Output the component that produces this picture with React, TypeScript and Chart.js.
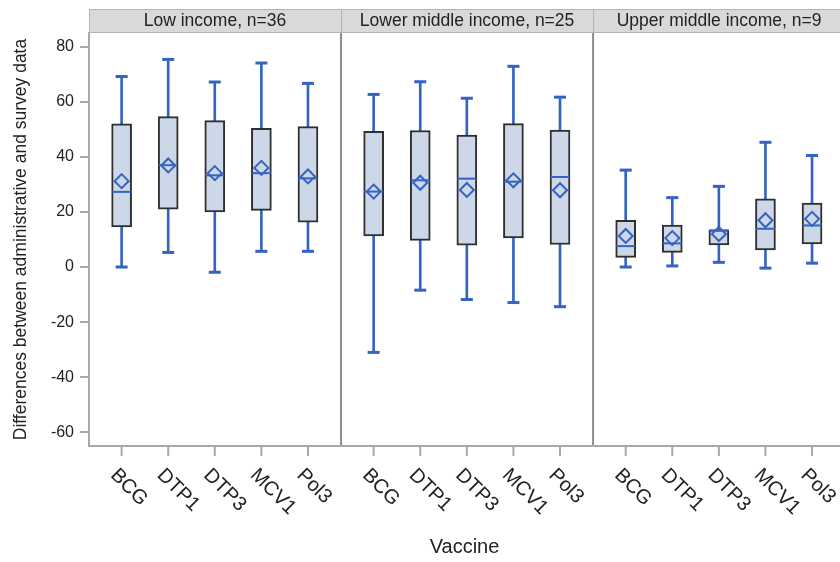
import React, { useEffect, useRef } from "react";
import { Chart, registerables } from "chart.js";

Chart.register(...registerables);

// ---------- data ----------
const panels = ["Low income, n=36", "Lower middle income, n=25", "Upper middle income, n=9"];
const vaccines = ["BCG", "DTP1", "DTP3", "MCV1", "Pol3"];
const yTicks = [-60, -40, -20, 0, 20, 40, 60, 80];
const yTitle = "Differences between administrative and survey data";
const xTitle = "Vaccine";

// rows = income panels, columns = vaccines
const whiskerLow = [
  [0, 5.3, -1.9, 5.7, 5.7],
  [-31.0, -8.4, -11.8, -12.9, -14.4],
  [0, 0.4, 1.7, -0.4, 1.4],
];
const q1 = [
  [14.6, 21.0, 20.0, 20.6, 16.3],
  [11.3, 9.7, 7.9, 10.6, 8.2],
  [3.5, 5.3, 8.0, 6.2, 8.4],
];
const medians = [
  [27.3, 37.0, 33.3, 34.1, 32.2],
  [27.4, 31.5, 32.1, 31.0, 32.7],
  [7.6, 8.6, 13.3, 13.9, 15.1],
];
const q3 = [
  [52.0, 54.6, 53.2, 50.4, 51.0],
  [49.3, 49.6, 47.9, 52.1, 49.7],
  [17.0, 15.2, 13.5, 24.8, 23.2],
];
const whiskerHigh = [
  [69.2, 75.4, 67.2, 74.1, 66.7],
  [62.7, 67.3, 61.3, 72.9, 61.7],
  [35.2, 25.2, 29.3, 45.3, 40.5],
];
const means = [
  [31.2, 36.9, 34.1, 36.0, 32.9],
  [27.4, 30.6, 28.0, 31.5, 27.9],
  [11.3, 10.5, 12.0, 17.0, 17.5],
];

// ---------- layout helpers (axis units) ----------
const PANEL_W = 5.41;
const OFFSET = 0.7;
const X_MAX = 16.12;
const xOf = (p: number, v: number) => p * PANEL_W + OFFSET + v;

const FONT = "'Liberation Sans', Arial, sans-serif";
const BLUE = "#3563c4";
const BOX_FILL = "#ccd7e7";
const BOX_EDGE = "#2f2f2f";
const AXIS_GRAY = "#a8a8a8";
const DIVIDER = "#8c8c8c";
const TEXT = "#222222";

const facetPlugin = {
  id: "facets",
  afterDraw(chart: any) {
    const { ctx, chartArea, scales } = chart;
    const x = scales.x;
    ctx.save();
    // header strips
    panels.forEach((label, p) => {
      const l = x.getPixelForValue(p * PANEL_W);
      const rFull = x.getPixelForValue((p + 1) * PANEL_W);
      const r = Math.min(rFull, chart.width + 2);
      ctx.fillStyle = "#d9dad7";
      ctx.fillRect(l, 9, r - l, 24);
      ctx.strokeStyle = "#b3b3b3";
      ctx.lineWidth = 1;
      ctx.strokeRect(l + 0.5, 9.5, r - l, 23);
      ctx.fillStyle = TEXT;
      ctx.font = `17.5px ${FONT}`;
      ctx.textAlign = "center";
      ctx.textBaseline = "middle";
      ctx.fillText(label, (l + rFull) / 2, 21.5);
    });
    // panel dividers
    ctx.strokeStyle = DIVIDER;
    ctx.lineWidth = 2;
    for (let p = 1; p < panels.length; p++) {
      const px = x.getPixelForValue(p * PANEL_W);
      ctx.beginPath();
      ctx.moveTo(px, chartArea.top);
      ctx.lineTo(px, chartArea.bottom + 1);
      ctx.stroke();
    }
    // bottom axis line
    ctx.strokeStyle = AXIS_GRAY;
    ctx.beginPath();
    ctx.moveTo(chartArea.left - 1, chartArea.bottom);
    ctx.lineTo(chart.width, chartArea.bottom);
    ctx.stroke();
    // ticks and rotated labels
    panels.forEach((_, p) => {
      vaccines.forEach((vac, v) => {
        const tx = x.getPixelForValue(xOf(p, v));
        ctx.strokeStyle = AXIS_GRAY;
        ctx.lineWidth = 2;
        ctx.beginPath();
        ctx.moveTo(tx, chartArea.bottom);
        ctx.lineTo(tx, chartArea.bottom + 10);
        ctx.stroke();
        ctx.save();
        ctx.translate(tx - 1, chartArea.bottom + 19);
        ctx.rotate(Math.PI / 4);
        ctx.fillStyle = TEXT;
        ctx.font = `20px ${FONT}`;
        ctx.textAlign = "left";
        ctx.textBaseline = "top";
        ctx.fillText(vac, 0, 0);
        ctx.restore();
      });
    });
    // x title
    ctx.fillStyle = TEXT;
    ctx.font = `20px ${FONT}`;
    ctx.textAlign = "center";
    ctx.textBaseline = "middle";
    ctx.fillText(xTitle, (chartArea.left + chartArea.right) / 2, 547);
    ctx.restore();
  },
};

export default function App() {
  const ref = useRef<HTMLCanvasElement | null>(null);

  useEffect(() => {
    if (!ref.current) return;
    const boxData: any[] = [];
    const whiskerData: any[] = [];
    const medianData: any[] = [];
    const meanData: any[] = [];
    const capData: any[] = [];
    panels.forEach((_, p) => {
      vaccines.forEach((__, v) => {
        const x = xOf(p, v);
        boxData.push({ x, y: [q1[p][v], q3[p][v]] });
        whiskerData.push({ x, y: [whiskerLow[p][v], whiskerHigh[p][v]] });
        medianData.push({ x, y: medians[p][v] });
        meanData.push({ x, y: means[p][v] });
        capData.push({ x, y: whiskerLow[p][v] });
        capData.push({ x, y: whiskerHigh[p][v] });
      });
    });

    const chart = new Chart(ref.current, {
      type: "bar",
      data: {
        datasets: [
          {
            type: "scatter",
            data: meanData,
            pointStyle: "rectRot",
            pointRadius: 7,
            pointBorderColor: BLUE,
            pointBackgroundColor: "rgba(0,0,0,0)",
            pointBorderWidth: 2,
            order: 0,
          } as any,
          {
            type: "scatter",
            data: medianData,
            pointStyle: "line",
            pointRadius: 9.5,
            pointBorderColor: BLUE,
            pointBorderWidth: 2,
            order: 1,
          } as any,
          {
            type: "scatter",
            data: capData,
            pointStyle: "line",
            pointRadius: 6,
            pointBorderColor: BLUE,
            pointBorderWidth: 3,
            order: 2,
          } as any,
          {
            type: "bar",
            data: boxData,
            backgroundColor: BOX_FILL,
            borderColor: BOX_EDGE,
            borderWidth: 2,
            borderSkipped: false,
            barThickness: 20,
            grouped: false,
            order: 3,
          } as any,
          {
            type: "bar",
            data: whiskerData,
            backgroundColor: BLUE,
            borderWidth: 0,
            barThickness: 2,
            grouped: false,
            order: 4,
          } as any,
        ],
      },
      options: {
        animation: false,
        responsive: false,
        devicePixelRatio: 1,
        events: [],
        layout: { autoPadding: false, padding: { top: 33, bottom: 116, left: 0, right: 0 } },
        plugins: { legend: { display: false }, tooltip: { enabled: false } },
        scales: {
          x: {
            type: "linear",
            min: 0,
            max: X_MAX,
            offset: false,
            display: false,
          },
          y: {
            min: -65,
            max: 85,
            afterBuildTicks: (s: any) => {
              s.ticks = yTicks.map((v) => ({ value: v }));
            },
            afterFit: (s: any) => {
              s.width = 89;
            },
            grid: {
              drawOnChartArea: false,
              drawTicks: true,
              tickLength: 9,
              color: AXIS_GRAY,
              lineWidth: 2,
            },
            border: { display: true, color: AXIS_GRAY, width: 2 },
            ticks: {
              font: { family: FONT, size: 16 },
              color: TEXT,
              padding: 6,
            },
            title: {
              display: true,
              text: yTitle,
              font: { family: FONT, size: 17.5 },
              color: TEXT,
              padding: { top: 11, bottom: 0 },
            },
          },
        },
      } as any,
      plugins: [facetPlugin],
    });
    return () => chart.destroy();
  }, []);

  return (
    <div style={{ position: "fixed", left: 0, top: 0, width: 840, height: 562, overflow: "hidden", background: "#fff" }}>
      <canvas ref={ref} width={840} height={562} style={{ width: 840, height: 562, display: "block" }} />
    </div>
  );
}
